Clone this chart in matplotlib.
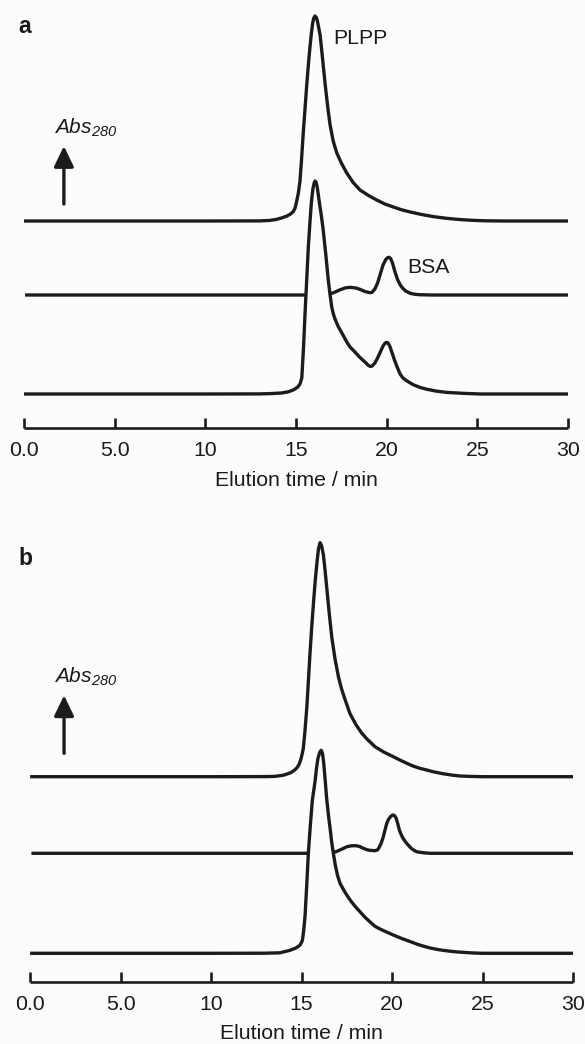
import matplotlib
matplotlib.use("Agg")
import matplotlib.pyplot as plt
import numpy as np

# ---------------- data ----------------
tick_values = [0, 5, 10, 15, 20, 25, 30]
tick_labels = ["0.0", "5.0", "10", "15", "20", "25", "30"]

# Panel a, top trace: PLPP
time_a_plpp = [0.05, 10.0, 13.0, 13.5, 13.9, 14.2, 14.5, 14.7, 14.85, 14.95, 15.04, 15.13,
               15.22, 15.3, 15.4, 15.5, 15.6, 15.69, 15.77, 15.85, 15.92, 15.98, 16.05,
               16.12, 16.18, 16.33, 16.45, 16.6, 16.75, 16.88, 17.05, 17.25, 17.5, 17.8,
               18.15, 18.53, 19.0, 19.45, 19.9, 20.37, 20.8, 21.3, 21.9, 22.6, 23.3, 24.0,
               24.7, 25.4, 26.5, 30.0]
abs_a_plpp = [0, 0, 0.1, 0.5, 1.5, 3, 5, 7, 9.5, 13, 20, 28,
              40, 60, 88, 113, 138, 158, 174, 188, 198, 203, 205,
              203.5, 200, 186, 165, 138, 114, 96, 80, 68, 58, 48,
              38.5, 31, 25.5, 21, 17, 14, 11.3, 9, 6.6, 4.3, 2.7, 1.5,
              0.7, 0.2, 0, 0]

# Panel a, middle trace: BSA
time_a_bsa = [0.15, 10.0, 16.5, 16.8, 17.1, 17.4, 17.7, 17.98, 18.3, 18.55, 18.8, 19.08,
              19.2, 19.35, 19.5, 19.65, 19.8, 19.95, 20.05, 20.13, 20.22, 20.32, 20.46,
              20.6, 20.75, 20.9, 21.05, 21.3, 21.55, 21.8, 22.5, 30.0]
abs_a_bsa = [0, 0, 0, 0.7, 2.5, 5, 7, 7.7, 7, 5.5, 3.5, 2.3,
             2.8, 6, 12, 21, 30, 35.5, 37.3, 37.7, 36.5, 32, 23,
             15.5, 10, 6.5, 4, 1.7, 0.7, 0.3, 0, 0]

# Panel a, bottom trace: mixture
time_a_mix = [0.0, 10.0, 13.0, 13.6, 14.2, 14.6, 14.9, 15.1, 15.22, 15.32, 15.41, 15.5,
              15.59, 15.68, 15.77, 15.85, 15.93, 16.0, 16.05, 16.1, 16.17, 16.3, 16.4,
              16.5, 16.64, 16.78, 16.88, 16.97, 17.06, 17.15, 17.34, 17.5, 17.65, 17.8,
              17.98, 18.25, 18.5, 18.8, 19.0, 19.1, 19.2, 19.35, 19.5, 19.65, 19.8, 19.92,
              20.0, 20.08, 20.18, 20.3, 20.45, 20.6, 20.74, 20.9, 21.1, 21.3, 21.5, 21.84,
              22.2, 22.7, 23.3, 24.3, 25.2, 30.0]
abs_a_mix = [0, 0, 0.1, 0.4, 1, 2.3, 4.5, 7, 10, 16, 45, 81,
             114, 147, 172, 192, 205, 211, 213, 212, 207, 190, 178,
             164, 140, 114, 99, 87, 80, 75, 67, 62, 57, 52,
             47, 42, 37, 32, 28.5, 27.5, 28, 31, 36, 42, 48, 51,
             51.6, 51, 47.5, 41, 33, 26, 20, 16, 13.3, 11, 9, 6.6,
             4.8, 3, 1.6, 0.6, 0, 0]

# Panel b, top trace
time_b_top = [0.1, 10.0, 13.0, 13.5, 14.0, 14.4, 14.6, 14.73, 14.85, 14.95, 15.02, 15.09,
              15.18, 15.28, 15.37, 15.46, 15.55, 15.65, 15.75, 15.85, 15.93, 16.02, 16.1,
              16.2, 16.29, 16.38, 16.52, 16.66, 16.84, 17.03, 17.2, 17.4, 17.67, 18.0,
              18.3, 18.59, 19.05, 19.55, 20.06, 20.5, 21.1, 21.5, 21.9, 22.3, 22.8, 23.3,
              23.74, 24.3, 25.0, 30.0]
abs_b_top = [0, 0, 0.1, 0.3, 1.5, 4, 6.5, 8.7, 12, 17, 22, 28,
             45, 68, 95, 123, 148, 173, 196, 215, 228, 234, 231,
             222, 207, 190, 164, 140, 118, 100, 88, 77, 63, 52,
             44, 38, 30, 24.5, 20, 16, 11, 8.5, 6.7, 4.8, 3, 1.6,
             0.7, 0.3, 0, 0]

# Panel b, middle trace
time_b_mid = [0.17, 10.0, 16.6, 16.9, 17.2, 17.5, 17.75, 18.0, 18.2, 18.4, 18.6, 18.75,
              19.05, 19.2, 19.3, 19.4, 19.5, 19.6, 19.7, 19.8, 19.9, 20.0, 20.06, 20.14,
              20.22, 20.3, 20.4, 20.5, 20.6, 20.7, 20.8, 20.92, 21.05, 21.2, 21.35, 21.6,
              21.8, 22.1, 30.0]
abs_b_mid = [0, 0, 0, 1.6, 4, 6.6, 7.5, 7.6, 6.8, 5, 3.6, 3,
             2.6, 3.5, 6.6, 10.5, 16, 23, 30, 34, 36.5, 38, 38.3, 37.5,
             35, 30, 23, 18.5, 15, 12.3, 10, 7.5, 5, 3, 1.6, 0.8,
             0.4, 0, 0]

# Panel b, bottom trace
time_b_bot = [0.1, 10.0, 13.0, 13.8, 14.36, 14.7, 14.9, 15.0, 15.05, 15.12, 15.19, 15.28,
              15.37, 15.48, 15.59, 15.74, 15.82, 15.9, 16.0, 16.08, 16.15, 16.22, 16.3,
              16.38, 16.48, 16.57, 16.66, 16.75, 16.86, 16.98, 17.12, 17.3, 17.5, 17.75,
              18.0, 18.25, 18.5, 18.8, 19.05, 19.3, 19.6, 19.85, 20.06, 20.3, 20.5, 20.8,
              21.1, 21.4, 21.75, 22.1, 22.5, 23.0, 23.5, 23.9, 24.4, 25.0, 30.0]
abs_b_bot = [0, 0, 0.1, 0.5, 3, 5.5, 8, 11, 14, 24, 38, 68,
             100, 128, 153, 172, 185, 195, 201, 203, 200, 190, 173,
             155, 138, 125, 111, 100, 88, 78, 70, 64, 58, 51.5,
             46, 41, 36, 31, 27, 24.5, 22, 20, 18.3, 16.5, 15, 13,
             11, 9, 7, 5.3, 3.8, 2.5, 1.5, 1, 0.4, 0, 0]

# ---------------- style ----------------
plt.rcParams["font.family"] = ["Liberation Sans", "DejaVu Sans"]
plt.rcParams["mathtext.fontset"] = "custom"
plt.rcParams["mathtext.it"] = "Liberation Sans:italic"
plt.rcParams["mathtext.rm"] = "Liberation Sans:italic"
plt.rcParams["mathtext.default"] = "it"

BG = "#fcfcfc"
INK = "#1c1c1c"
TXT = "#1a1a1a"
LW = 2.4
FS = 15.3
W, H = 585, 1044

fig = plt.figure(figsize=(W / 100, H / 100), dpi=100, facecolor=BG)


def make_axes(left_px, right_px, bottom_px, top_px, labelpad):
    ax = fig.add_axes([left_px / W, 1 - bottom_px / H,
                       (right_px - left_px) / W, (bottom_px - top_px) / H])
    ax.set_facecolor("none")
    ax.set_xlim(0, 30)
    ax.set_ylim(0, bottom_px - top_px)
    for s in ("top", "left", "right"):
        ax.spines[s].set_visible(False)
    ax.spines["bottom"].set_linewidth(1.9)
    ax.spines["bottom"].set_color(INK)
    ax.spines["bottom"].set_capstyle("butt")
    ax.set_yticks([])
    ax.set_xticks(tick_values)
    ax.set_xticklabels(tick_labels)
    ax.tick_params(axis="x", direction="in", length=7.2, width=1.9, color=INK,
                   labelsize=FS, pad=9.5, labelcolor=TXT)
    ax.set_xlabel("Elution time / min", fontsize=FS, labelpad=labelpad, color=TXT)
    return ax


def draw_traces(ax, traces, offsets):
    (t_top, s_top), (t_mid, s_mid), (t_bot, s_bot) = traces
    o_top, o_mid, o_bot = offsets
    ax.plot(t_top, np.asarray(s_top) + o_top, color=INK, lw=LW, zorder=4,
            solid_joinstyle="round")
    ax.plot(t_mid, np.asarray(s_mid) + o_mid, color=INK, lw=LW, zorder=2,
            solid_joinstyle="round")
    # the bottom trace's peak hides the middle baseline behind it
    ax.fill_between(t_bot, o_bot, np.asarray(s_bot) + o_bot, color=BG, lw=0, zorder=3)
    ax.plot(t_bot, np.asarray(s_bot) + o_bot, color=INK, lw=LW, zorder=4,
            solid_joinstyle="round")


def abs_arrow(ax, x, y_tail, y_tip, y_text, x_text):
    ax.annotate("", xy=(x, y_tip), xytext=(x, y_tail),
                arrowprops=dict(arrowstyle="-|>,head_length=12.5,head_width=6.0",
                                mutation_scale=1, lw=2.4, color=INK,
                                shrinkA=0, shrinkB=0))
    ax.text(x_text, y_text, r"$Abs_{280}$", fontsize=15.0,
            ha="left", va="baseline", color=TXT)


# ---------------- panel a ----------------
ax_a = make_axes(24, 568, 428, 10, labelpad=7.5)
draw_traces(ax_a, [(time_a_plpp, abs_a_plpp), (time_a_bsa, abs_a_bsa),
                   (time_a_mix, abs_a_mix)], (207, 133, 34))
abs_arrow(ax_a, 2.2, 224, 282, 294, 1.67)
ax_a.text(17.03, 389.7, "PLPP", fontsize=FS, ha="left", va="center", color=TXT)
ax_a.text(21.16, 160.7, "BSA", fontsize=FS, ha="left", va="center", color=TXT)

# ---------------- panel b ----------------
ax_b = make_axes(30, 573.3, 982.3, 530, labelpad=7.0)
draw_traces(ax_b, [(time_b_top, abs_b_top), (time_b_mid, abs_b_mid),
                   (time_b_bot, abs_b_bot)], (205.6, 129, 29))
abs_arrow(ax_b, 1.88, 229, 287, 300, 1.34)

fig.text(18 / W, 1 - 33.3 / H, "a", fontsize=16.5, fontweight="bold",
         ha="left", va="baseline", color=TXT)
fig.text(18 / W, 1 - 565 / H, "b", fontsize=16.5, fontweight="bold",
         ha="left", va="baseline", color=TXT)

fig.savefig("out.png", dpi=100, facecolor=BG)
